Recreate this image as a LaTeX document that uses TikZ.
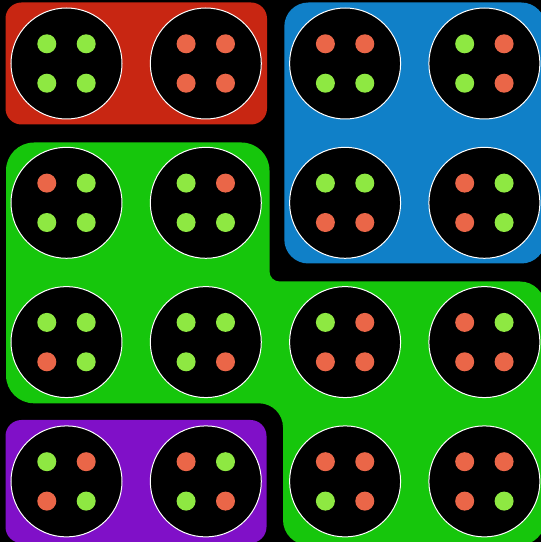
\documentclass[tikz,border=0pt]{standalone}
\usetikzlibrary{calc}
\definecolor{redbox}{RGB}{200,38,18}
\definecolor{bluebox}{RGB}{16,128,200}
\definecolor{greenbox}{RGB}{22,198,12}
\definecolor{purplebox}{RGB}{128,16,200}
\definecolor{dotg}{RGB}{142,232,66}
\definecolor{dotr}{RGB}{234,102,72}
\begin{document}
\begin{tikzpicture}[x=1pt,y=1pt,
  cell/.style={circle,draw=white,line width=1pt,fill=black,minimum size=111pt,inner sep=0pt}]
\useasboundingbox (0,0) rectangle (541,542);
\clip (0,0) rectangle (541,542);
\fill[black] (0,0) rectangle (541,542);
% red region
\fill[redbox,rounded corners=16pt] (5.5,417.5) rectangle (267,539.5);
% blue region
\fill[bluebox,rounded corners=24pt] (284.3,278.5) rectangle (545.4,539.5);
% purple region
\fill[purplebox,rounded corners=16pt] (5.5,-1) rectangle (266.5,122);
% green region
\fill[greenbox] (6,371.5) arc[start angle=180,end angle=90,radius=28]
  -- (241.5,399.5) arc[start angle=90,end angle=0,radius=28]
  -- (269.5,270.5) arc[start angle=180,end angle=270,radius=10]
  -- (520,260.5) arc[start angle=90,end angle=0,radius=25]
  -- (545,22) arc[start angle=0,end angle=-90,radius=25]
  -- (308,-3) arc[start angle=270,end angle=180,radius=25]
  -- (283,114.7) arc[start angle=0,end angle=90,radius=24]
  -- (34,138.7) arc[start angle=270,end angle=180,radius=28]
  -- cycle;
% cells
\foreach \col/\row/\ta/\tb/\ba/\bb in {
  0/0/g/g/g/g, 1/0/r/r/r/r, 2/0/r/r/g/g, 3/0/g/r/g/r,
  0/1/r/g/g/g, 1/1/g/r/g/g, 2/1/g/g/r/r, 3/1/r/g/r/g,
  0/2/g/g/r/g, 1/2/g/g/g/r, 2/2/g/r/r/r, 3/2/r/g/r/r,
  0/3/g/r/r/g, 1/3/r/g/g/r, 2/3/r/r/g/r, 3/3/r/r/r/g}{
  \pgfmathsetmacro{\cx}{66.5+139.3*\col}
  \pgfmathsetmacro{\cy}{478.5-139.3*\row}
  \node[cell] (c\row\col) at (\cx,\cy) {};
  \fill[dot\ta] ($(c\row\col.center)+(-19.7,19.7)$) circle[radius=9.5];
  \fill[dot\tb] ($(c\row\col.center)+(19.7,19.7)$) circle[radius=9.5];
  \fill[dot\ba] ($(c\row\col.center)+(-19.7,-19.7)$) circle[radius=9.5];
  \fill[dot\bb] ($(c\row\col.center)+(19.7,-19.7)$) circle[radius=9.5];
}
\end{tikzpicture}
\end{document}
